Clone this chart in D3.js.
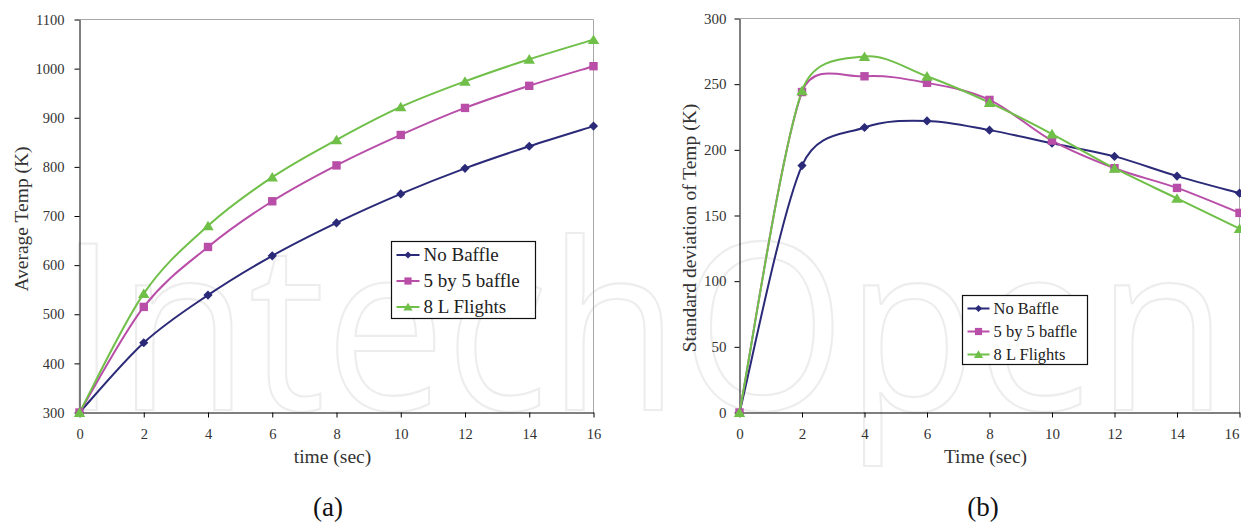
<!DOCTYPE html>
<html>
<head>
<meta charset="utf-8">
<script src="https://cdn.jsdelivr.net/npm/d3@7"></script>
<style>
  html, body { margin: 0; padding: 0; background: #ffffff; }
  svg { display: block; }
</style>
</head>
<body>
<script>
// ---------------- data ----------------
const times = [0, 2, 4, 6, 8, 10, 12, 14, 16];
const seriesNames = ["No Baffle", "5 by 5 baffle", "8 L Flights"];

// (a) Average temperature (K)
const avgNoBaffle = [300, 442, 539, 619, 686, 745, 797, 842, 883];
const avg5by5     = [300, 515, 637, 730, 803, 865, 920, 965, 1005];
const avg8L       = [300, 542, 680, 779, 855, 922, 974, 1019, 1059];

// (b) Standard deviation of temperature (K)
const sdNoBaffle = [0, 188, 217, 222, 215, 205, 195, 180, 167];
const sd5by5     = [0, 244, 256, 251, 238, 207, 186, 171, 152];
const sd8L       = [0, 245, 271, 256, 236, 212, 186, 163, 140];

// tick values
const xTicks = [0, 2, 4, 6, 8, 10, 12, 14, 16];
const yTicksA = [300, 400, 500, 600, 700, 800, 900, 1000, 1100];
const yTicksB = [0, 50, 100, 150, 200, 250, 300];

// ---------------- styles ----------------
const FONT = "'Liberation Serif', 'DejaVu Serif', serif";
const colors = ["#2b2a78", "#b84ea8", "#6fbf48"];
const markerTypes = ["diamond", "square", "triangle"];
const textColor = "#333333";

function markerPath(type, s) {
  if (type === "diamond") return `M0,${-s}L${s},0L0,${s}L${-s},0Z`;
  if (type === "square") return `M${-s},${-s}h${2*s}v${2*s}h${-2*s}Z`;
  return `M0,${-s}L${s*1.1},${s*0.85}L${-s*1.1},${s*0.85}Z`;
}
const plotMarkerSize = {diamond: 4.6, square: 4.2, triangle: 5.2};
const legMarkerSize = {diamond: 3.6, square: 3.6, triangle: 4.2};

// Spreadsheet-style smoothed line (Bezier, 1/6 tangents capped at half segment)
function SmoothCurve(context) { this._context = context; }
SmoothCurve.prototype = {
  areaStart() {}, areaEnd() {},
  lineStart() { this._pts = []; },
  point(x, y) { this._pts.push([+x, +y]); },
  lineEnd() {
    const p = this._pts, c = this._context, n = p.length;
    if (!n) return;
    c.moveTo(p[0][0], p[0][1]);
    const dist = (a, b) => Math.hypot(b[0] - a[0], b[1] - a[1]);
    for (let i = 0; i < n - 1; i++) {
      const P0 = p[i - 1] || p[i], P1 = p[i], P2 = p[i + 1], P3 = p[i + 2] || p[i + 1];
      const d12 = dist(P1, P2), d02 = dist(P0, P2), d13 = dist(P1, P3);
      let f1 = 1 / 6, f2 = 1 / 6;
      if (d02 / 6 > d12 / 2 && d02 > 0) f1 = (d12 / 2) / d02;
      if (d13 / 6 > d12 / 2 && d13 > 0) f2 = (d12 / 2) / d13;
      const c1 = [P1[0] + (P2[0] - P0[0]) * f1, P1[1] + (P2[1] - P0[1]) * f1];
      const c2 = [P2[0] - (P3[0] - P1[0]) * f2, P2[1] - (P3[1] - P1[1]) * f2];
      c.bezierCurveTo(c1[0], c1[1], c2[0], c2[1], P2[0], P2[1]);
    }
  }
};
const curveSmooth = ctx => new SmoothCurve(ctx);

const svg = d3.select("body").append("svg")
  .attr("width", 1241).attr("height", 524);

// faint watermark
svg.append("text")
  .attr("transform", "translate(58,410) scale(1,1.1)")
  .attr("x", 0).attr("y", 0)
  .attr("textLength", 1170).attr("lengthAdjust", "spacingAndGlyphs")
  .style("font-family", "'Open Sans', 'Noto Sans', sans-serif")
  .style("font-size", "212px")
  .attr("fill", "none")
  .attr("stroke", "#ededed")
  .attr("stroke-width", 2)
  .text("IntechOpen");

function drawChart(cfg) {
  const x = d3.scaleLinear().domain([0, 16]).range([cfg.left, cfg.right]);
  const y = d3.scaleLinear().domain(cfg.yDomain).range([cfg.bottom, cfg.top]);
  const g = svg.append("g");

  // border (top/right grey)
  g.append("path")
    .attr("d", `M${cfg.left},${cfg.top}H${cfg.right}V${cfg.bottom}`)
    .attr("fill", "none").attr("stroke", "#a8a8a8").attr("stroke-width", 1);

  // y axis
  const ya = g.append("g").attr("transform", `translate(${cfg.left},0)`)
    .call(d3.axisLeft(y).tickValues(cfg.yTicks).tickSize(5).tickSizeOuter(0)
      .tickPadding(cfg.yPad).tickFormat(d3.format("d")));
  // x axis
  const xa = g.append("g").attr("transform", `translate(0,${cfg.bottom})`)
    .call(d3.axisBottom(x).tickValues(xTicks).tickSize(5).tickSizeOuter(0)
      .tickPadding(21).tickFormat(d3.format("d")));
  [ya, xa].forEach(a => {
    a.attr("font-family", null).attr("font-size", null);
    a.select(".domain").attr("stroke", "#000").attr("stroke-width", 1);
    a.selectAll(".tick line").attr("stroke", "#000");
    a.selectAll(".tick text")
      .style("font-family", FONT)
      .style("font-size", cfg.tickFont + "px")
      .attr("fill", textColor);
  });
  xa.selectAll(".tick text").attr("dy", "0");
  if (cfg.lastXEnd) {
    xa.selectAll(".tick text").filter(d => d === 16)
      .attr("text-anchor", "end").attr("dx", "-0.5");
  }

  // lines and markers
  const line = d3.line()
    .x((d, i) => x(times[i]))
    .y(d => y(d))
    .curve(curveSmooth);

  cfg.series.forEach((vals, si) => {
    g.append("path")
      .attr("d", line(vals))
      .attr("fill", "none")
      .attr("stroke", colors[si])
      .attr("stroke-width", 2);
  });
  cfg.series.forEach((vals, si) => {
    g.selectAll(null).data(vals).enter().append("path")
      .attr("d", markerPath(markerTypes[si], plotMarkerSize[markerTypes[si]]))
      .attr("transform", (d, i) => `translate(${x(times[i])},${y(d)})`)
      .attr("fill", colors[si]);
  });

  // axis titles
  g.append("text")
    .attr("x", (cfg.left + cfg.right) / 2 + cfg.xTitleShift)
    .attr("y", 463)
    .attr("text-anchor", "middle")
    .style("font-family", FONT)
    .style("font-size", "19.5px")
    .attr("fill", textColor)
    .text(cfg.xTitle);

  g.append("text")
    .attr("transform", `translate(${cfg.yTitleX},${cfg.yTitleY}) rotate(-90)`)
    .attr("text-anchor", "middle")
    .style("font-family", FONT)
    .style("font-size", "19.5px")
    .attr("fill", textColor)
    .text(cfg.yTitle);

  // panel label
  g.append("text")
    .attr("x", cfg.panelX).attr("y", 516)
    .attr("text-anchor", "middle")
    .style("font-family", FONT)
    .style("font-size", "27px")
    .attr("fill", "#111")
    .text(cfg.panel);

  // legend
  const L = cfg.legend;
  g.append("rect")
    .attr("x", L.x).attr("y", L.y).attr("width", L.w).attr("height", L.h)
    .attr("fill", "#fff").attr("stroke", "#111").attr("stroke-width", 1.2);
  seriesNames.forEach((name, si) => {
    const cy = L.y + L.firstRow + si * L.rowGap;
    g.append("line")
      .attr("x1", L.x + 5).attr("x2", L.x + 5 + L.lineLen)
      .attr("y1", cy).attr("y2", cy)
      .attr("stroke", colors[si]).attr("stroke-width", 2);
    g.append("path")
      .attr("d", markerPath(markerTypes[si], legMarkerSize[markerTypes[si]]))
      .attr("transform", `translate(${L.x + 5 + L.lineLen / 2},${cy})`)
      .attr("fill", colors[si]);
    g.append("text")
      .attr("x", L.x + 5 + L.lineLen + 4)
      .attr("y", cy + L.font * 0.33)
      .style("font-family", FONT)
      .style("font-size", L.font + "px")
      .attr("fill", "#222")
      .text(name);
  });
}

drawChart({
  left: 79.5, right: 593.5, top: 19.5, bottom: 412.5,
  yDomain: [300, 1100], yTicks: yTicksA, yPad: 10, tickFont: 14.5,
  series: [avgNoBaffle, avg5by5, avg8L],
  xTitle: "time (sec)", xTitleShift: -4,
  yTitle: "Average Temp (K)", yTitleX: 28, yTitleY: 219,
  panel: "(a)", panelX: 328, lastXEnd: false,
  legend: {x: 391.5, y: 241.5, w: 144, h: 77, firstRow: 13.5, rowGap: 26, lineLen: 23, font: 19}
});

drawChart({
  left: 739.5, right: 1239.5, top: 18.5, bottom: 412.5,
  yDomain: [0, 300], yTicks: yTicksB, yPad: 8, tickFont: 15,
  series: [sdNoBaffle, sd5by5, sd8L],
  xTitle: "Time (sec)", xTitleShift: -4,
  yTitle: "Standard deviation of Temp (K)", yTitleX: 696, yTitleY: 228,
  panel: "(b)", panelX: 983, lastXEnd: true,
  legend: {x: 962.5, y: 295.5, w: 125, h: 69, firstRow: 13, rowGap: 23, lineLen: 22, font: 16.5}
});
</script>
</body>
</html>
